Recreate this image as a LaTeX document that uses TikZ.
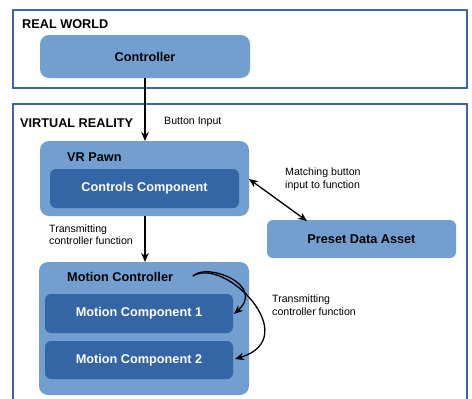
\documentclass[tikz,border=0pt]{standalone}
\usepackage{fontspec}
\setmainfont{Liberation Sans}
\usetikzlibrary{arrows.meta}
\definecolor{lightblue}{HTML}{729FCF}
\definecolor{darkblue}{HTML}{3465A4}
\definecolor{framecol}{HTML}{3A66A3}
\begin{document}
\begin{tikzpicture}[x=1pt,y=-1pt,
  frame/.style={draw=framecol,line width=2.2pt},
  outerbox/.style={fill=lightblue,draw=none,rounded corners=9pt},
  innerbox/.style={fill=darkblue,draw=none,rounded corners=6pt},
  title/.style={font=\fontsize{12.7}{14}\selectfont\bfseries,anchor=west,inner sep=0pt},
  wtitle/.style={font=\fontsize{12.7}{14}\selectfont\bfseries,text=white,inner sep=0pt},
  btitle/.style={font=\fontsize{12.7}{14}\selectfont\bfseries,inner sep=0pt},
  lbl/.style={font=\fontsize{10.6}{12.5}\selectfont,anchor=west,align=left,inner sep=0pt},
  arr/.style={-{Stealth[length=9pt,width=7.5pt]},line width=1.3pt},
  darr/.style={{Stealth[length=9pt,width=7.5pt]}-{Stealth[length=9pt,width=7.5pt]},line width=1.3pt}
]
\useasboundingbox (0,0) rectangle (472,399);
\fill[white] (0,0) rectangle (472,399);
% frames
\draw[frame] (13,10) rectangle (467,88);
\draw[frame] (13,104) rectangle (467,420);
\node[title] (rw) at (22,24) {REAL WORLD};
\node[title] (vr) at (20,123) {VIRTUAL REALITY};
% controller
\path[outerbox] (40,35) rectangle (250,78);
\node[btitle] (ctrl) at (145,56.5) {Controller};
\coordinate (ctrlb) at (145,78);
% VR pawn
\path[outerbox] (40,141) rectangle (249,216);
\coordinate (pawnt) at (145,141);
\coordinate (pawnb) at (145,216);
\coordinate (pawnr) at (249,179);
\node[title] (pawn) at (67,157) {VR Pawn};
\path[innerbox] (50,169) rectangle (239,208);
\node[wtitle] (cc) at (144.5,188.5) {Controls Component};
% preset
\path[outerbox,rounded corners=6pt] (267,220) rectangle (456,258);
\node[btitle] (pda) at (361.5,239.5) {Preset Data Asset};
\coordinate (pdat) at (307,221);
% motion controller
\path[outerbox] (39,262) rectangle (249,395);
\coordinate (mct) at (145,262);
\node[title] (mc) at (67,277) {Motion Controller};
\path[innerbox] (45,294) rectangle (233,333);
\node[wtitle] (m1) at (139,313.5) {Motion Component 1};
\path[innerbox] (45,341) rectangle (233,379);
\node[wtitle] (m2) at (139,360) {Motion Component 2};
\coordinate (cs) at (193,276);
\coordinate (m1e) at (234,314);
\coordinate (m2e) at (235,359);
% labels
\node[lbl] (bi) at (164,122) {Button Input};
\node[lbl] (mb) at (285,179.5) {Matching button\\input to function};
\node[lbl] (t1) at (49,234.5) {Transmitting\\controller function};
\node[lbl] (t2) at (272,305) {Transmitting\\controller function};
% arrows
\draw[arr] (ctrlb) -- (pawnt);
\draw[arr] (pawnb) -- (mct);
\draw[darr] (pawnr) -- (pdat);
\draw[arr] (cs) .. controls (207,262) and (266,285) .. (m1e);
\draw[arr] (cs) .. controls (225,256) and (305,338) .. (m2e);
\end{tikzpicture}
\end{document}
